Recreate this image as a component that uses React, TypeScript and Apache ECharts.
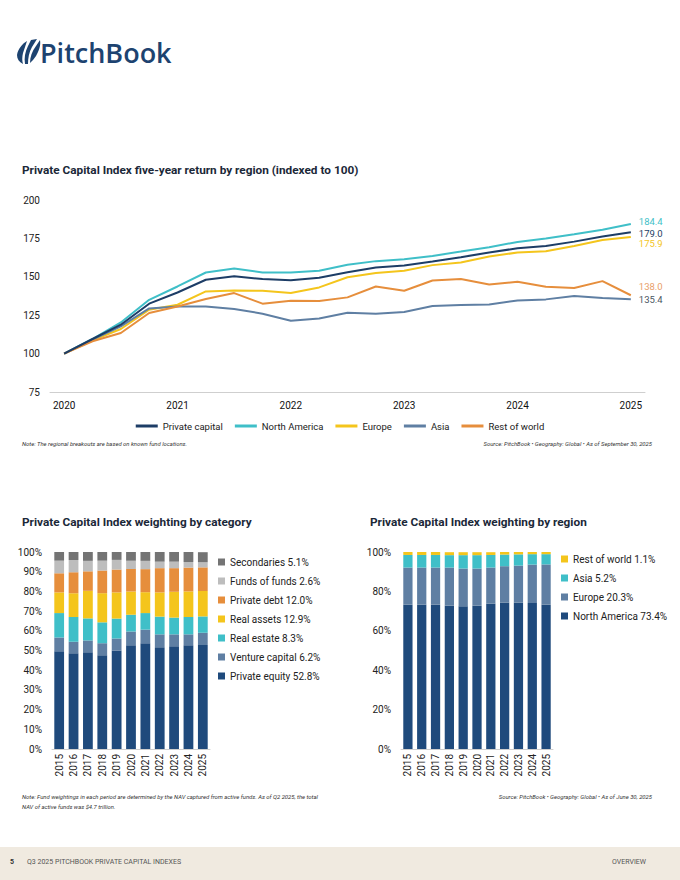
import React, { useEffect, useRef } from "react";
import * as echarts from "echarts";

// ---------- Line chart data (quarterly, indexed to 100) ----------
const quarters = [
  "Q2 2020", "Q3 2020", "Q4 2020", "Q1 2021", "Q2 2021", "Q3 2021", "Q4 2021",
  "Q1 2022", "Q2 2022", "Q3 2022", "Q4 2022", "Q1 2023", "Q2 2023", "Q3 2023",
  "Q4 2023", "Q1 2024", "Q2 2024", "Q3 2024", "Q4 2024", "Q1 2025", "Q2 2025",
];
const privateCapital = [100, 109.5, 118.8, 132.5, 139.8, 148.1, 150.4, 148.5, 147.8, 149.4, 153.0, 156.1, 157.4, 159.9, 162.8, 165.8, 168.6, 170.1, 172.9, 176.2, 179.0];
const northAmerica = [100, 109.5, 120.3, 135.0, 143.7, 152.8, 155.4, 152.8, 152.8, 153.9, 157.8, 160.2, 161.5, 163.6, 166.4, 169.3, 172.7, 174.9, 177.7, 180.7, 184.4];
const europe = [100, 108.7, 116.0, 128.6, 131.8, 140.5, 141.1, 140.9, 139.4, 143.1, 149.7, 152.4, 153.9, 157.6, 159.3, 163.2, 165.8, 166.7, 170.1, 174.0, 175.9];
const asia = [100, 109.1, 117.7, 129.4, 130.7, 130.7, 129.0, 126.0, 121.4, 122.9, 126.6, 126.0, 127.1, 131.0, 131.6, 132.0, 134.6, 135.3, 137.5, 136.2, 135.4];
const restOfWorld = [100, 108.0, 113.4, 126.4, 130.7, 135.5, 139.4, 132.5, 134.4, 134.2, 136.6, 143.7, 140.9, 147.6, 148.5, 145.0, 146.8, 143.5, 142.7, 147.2, 138.0];

// ---------- Weighting by category (%) ----------
const years = ["2015", "2016", "2017", "2018", "2019", "2020", "2021", "2022", "2023", "2024", "2025"];
const privateEquity = [49.6, 48.6, 49.1, 47.6, 50.0, 52.7, 53.7, 51.7, 52.2, 52.7, 52.8];
const ventureCapital = [7.0, 5.9, 6.0, 6.1, 6.1, 6.9, 6.9, 6.5, 6.0, 5.5, 6.2];
const realEstate = [12.4, 12.5, 11.2, 10.6, 10.1, 8.6, 8.4, 9.0, 8.5, 8.8, 8.3];
const realAssets = [10.5, 12.1, 14.0, 14.8, 13.3, 11.8, 10.6, 12.3, 13.1, 13.0, 12.9];
const privateDebt = [9.7, 10.6, 9.9, 11.5, 11.6, 11.4, 11.7, 12.3, 12.0, 12.1, 12.0];
const fundsOfFunds = [6.4, 6.3, 5.3, 5.0, 4.9, 4.2, 4.2, 3.3, 3.3, 2.8, 2.6];
const secondaries = [4.4, 4.0, 4.5, 4.4, 4.0, 4.4, 4.5, 4.9, 4.9, 5.1, 5.1];

// ---------- Weighting by region (%) ----------
const naWeight = [73.4, 73.4, 73.4, 72.9, 72.4, 72.9, 73.9, 74.4, 74.4, 74.1, 73.4];
const europeWeight = [18.7, 18.7, 18.7, 19.2, 19.2, 18.7, 18.2, 18.4, 18.7, 19.5, 20.3];
const asiaWeight = [6.4, 6.4, 6.4, 6.3, 6.8, 6.8, 6.4, 5.9, 5.7, 5.3, 5.2];
const rowWeight = [1.5, 1.5, 1.5, 1.5, 1.5, 1.5, 1.4, 1.3, 1.2, 1.1, 1.1];

const NAVY = "#1F4A7C";
const DARKNAVY = "#1D3D66";
const TEAL = "#3FBFC8";
const YELLOW = "#F4C51C";
const SLATE = "#5F7FA3";
const ORANGE = "#E68E3C";
const LGRAY = "#BDBDBD";
const DGRAY = "#747474";
const TXT = "#222222";
const FONT = "Roboto";

const logoPath =
  "M0 16 C1 10 5 5 10 2 L6 14 C5 18 5 22 6 25 C2 23 0 20 0 16 Z " +
  "M8 25 C7 19 8 13 11 7 L14 1 C16 0.5 18 0.2 20 0 L15 8 C12 13 11 19 11 25 Z " +
  "M13 24 C13 18 15 12 19 7 L23 1 C24 6 22 12 19 17 C17 20 15 22 13 24 Z";

let registered = false;
function ensureShape() {
  if (registered) return;
  echarts.graphic.registerShape("logo", (echarts.graphic as any).extendPath(logoPath, {}));
  registered = true;
}

function lastOf(arr: number[]) {
  return arr[arr.length - 1].toFixed(1);
}

export default function App() {
  const mainRef = useRef<HTMLDivElement>(null);
  const rightRef = useRef<HTMLDivElement>(null);

  useEffect(() => {
    ensureShape();
    const main = echarts.init(mainRef.current!, undefined, { renderer: "svg" });
    const right = echarts.init(rightRef.current!, undefined, { renderer: "svg" });

    const lineSeries = (name: string, data: number[], color: string, dy: number, labelColor?: string) => ({
      name,
      type: "line",
      xAxisIndex: 0,
      yAxisIndex: 0,
      data,
      symbol: "none",
      lineStyle: { width: 2, color },
      itemStyle: { color },
      endLabel: {
        show: true,
        formatter: (p: any) => Number(p.value).toFixed(1),
        color: labelColor || color,
        fontSize: 9.5,
        fontFamily: FONT,
        distance: 8,
        offset: [0, dy],
      },
    });

    const catMap: Record<string, number[]> = {
      "Private equity": privateEquity,
      "Venture capital": ventureCapital,
      "Real estate": realEstate,
      "Real assets": realAssets,
      "Private debt": privateDebt,
      "Funds of funds": fundsOfFunds,
      Secondaries: secondaries,
    };
    const catColors: Record<string, string> = {
      "Private equity": NAVY,
      "Venture capital": SLATE,
      "Real estate": TEAL,
      "Real assets": YELLOW,
      "Private debt": ORANGE,
      "Funds of funds": LGRAY,
      Secondaries: DGRAY,
    };
    const catOrder = ["Private equity", "Venture capital", "Real estate", "Real assets", "Private debt", "Funds of funds", "Secondaries"];

    const smallText = (x: number, y: number, text: string, align: string = "left") => ({
      type: "text",
      x,
      y,
      style: {
        text,
        fontFamily: FONT,
        fontSize: 5.9,
        fontStyle: "italic",
        fill: "#333",
        align,
        verticalAlign: "middle",
      },
    });

    main.setOption({
      animation: false,
      textStyle: { fontFamily: FONT },
      graphic: [
        { type: "logo", x: 17, y: 39, scaleX: 1, scaleY: 1, style: { fill: "#1D4370" } },
        {
          type: "text",
          x: 40,
          y: 52,
          style: { text: "PitchBook", fontFamily: "Open Sans", fontWeight: 600, fontSize: 27, fill: "#1D4370", verticalAlign: "middle" },
        },
        {
          type: "text",
          x: 22,
          y: 170,
          style: { text: "Private Capital Index five-year return by region (indexed to 100)", fontFamily: FONT, fontWeight: "bold", fontSize: 11.8, fill: "#1B2838", verticalAlign: "middle" },
        },
        smallText(22, 444, "Note: The regional breakouts are based on known fund locations."),
        smallText(652, 444, "Source: PitchBook • Geography: Global • As of September 30, 2025", "right"),
        {
          type: "text",
          x: 22,
          y: 522,
          style: { text: "Private Capital Index weighting by category", fontFamily: FONT, fontWeight: "bold", fontSize: 11.8, fill: "#1B2838", verticalAlign: "middle" },
        },
        {
          type: "text",
          x: 370,
          y: 522,
          style: { text: "Private Capital Index weighting by region", fontFamily: FONT, fontWeight: "bold", fontSize: 11.8, fill: "#1B2838", verticalAlign: "middle" },
        },
        smallText(22, 797, "Note: Fund weightings in each period are determined by the NAV captured from active funds. As of Q2 2025, the total"),
        smallText(22, 807, "NAV of active funds was $4.7 trillion."),
        smallText(652, 797, "Source: PitchBook • Geography: Global • As of June 30, 2025", "right"),
        { type: "rect", shape: { x: 0, y: 847, width: 680, height: 33 }, style: { fill: "#F0EAE0" } },
        {
          type: "text",
          x: 10,
          y: 862,
          style: { text: "5", fontFamily: FONT, fontWeight: "bold", fontSize: 7, fill: "#333", verticalAlign: "middle" },
        },
        {
          type: "text",
          x: 27,
          y: 862,
          style: { text: "Q3 2025 PITCHBOOK PRIVATE CAPITAL INDEXES", fontFamily: FONT, fontSize: 7, fill: "#555", verticalAlign: "middle" },
        },
        {
          type: "text",
          x: 646,
          y: 862,
          style: { text: "OVERVIEW", fontFamily: FONT, fontSize: 7, fill: "#555", align: "right", verticalAlign: "middle" },
        },
      ],
      legend: [
        {
          data: ["Private capital", "North America", "Europe", "Asia", "Rest of world"],
          top: 421,
          left: "center",
          padding: 0,
          icon: "rect",
          itemWidth: 22,
          itemHeight: 3,
          itemGap: 12,
          textStyle: { fontSize: 9.5, color: TXT, fontFamily: FONT },
        },
        {
          data: ["Secondaries", "Funds of funds", "Private debt", "Real assets", "Real estate", "Venture capital", "Private equity"],
          orient: "vertical",
          left: 218,
          top: 557,
          padding: 0,
          icon: "rect",
          itemWidth: 7,
          itemHeight: 7,
          itemGap: 9,
          formatter: (name: string) => `${name} ${lastOf(catMap[name])}%`,
          textStyle: { fontSize: 10, color: TXT, fontFamily: FONT },
        },
      ],
      grid: [
        { left: 50, top: 200, width: 595, height: 192 },
        { left: 52, top: 552, width: 158, height: 197 },
      ],
      xAxis: [
        {
          type: "category",
          gridIndex: 0,
          data: quarters,
          boundaryGap: true,
          axisLine: { lineStyle: { color: "#cfcfcf" } },
          axisTick: { show: false },
          axisLabel: {
            interval: 3,
            formatter: (v: string) => v.split(" ")[1],
            fontSize: 10,
            color: "#111",
            margin: 8,
            fontWeight: "normal",
          },
        },
        {
          type: "category",
          gridIndex: 1,
          data: years,
          axisLine: { lineStyle: { color: "#cfcfcf" } },
          axisTick: { show: false },
          axisLabel: { interval: 0, rotate: 90, fontSize: 10, color: TXT, margin: 5 },
        },
      ],
      yAxis: [
        {
          type: "value",
          gridIndex: 0,
          min: 75,
          max: 200,
          interval: 25,
          splitLine: { show: false },
          axisLine: { show: false },
          axisTick: { show: false },
          axisLabel: { fontSize: 10, color: TXT, margin: 10 },
        },
        {
          type: "value",
          gridIndex: 1,
          min: 0,
          max: 100,
          interval: 10,
          splitLine: { show: false },
          axisLine: { show: false },
          axisTick: { show: false },
          axisLabel: { fontSize: 10, color: TXT, margin: 10, formatter: "{value}%" },
        },
      ],
      series: [
        lineSeries("North America", northAmerica, TEAL, -2.5),
        lineSeries("Europe", europe, YELLOW, 6.5),
        lineSeries("Asia", asia, SLATE, 0.5, "#4A5562"),
        lineSeries("Rest of world", restOfWorld, ORANGE, -9, "#E9A06A"),
        lineSeries("Private capital", privateCapital, DARKNAVY, 1.5),
        ...catOrder.map((name) => ({
          name,
          type: "bar",
          stack: "cat",
          xAxisIndex: 1,
          yAxisIndex: 1,
          data: catMap[name],
          barWidth: "68%",
          itemStyle: { color: catColors[name] },
        })),
      ],
    });

    const regMap: Record<string, number[]> = {
      "North America": naWeight,
      Europe: europeWeight,
      Asia: asiaWeight,
      "Rest of world": rowWeight,
    };
    const regColors: Record<string, string> = {
      "North America": NAVY,
      Europe: SLATE,
      Asia: TEAL,
      "Rest of world": YELLOW,
    };
    const regOrder = ["North America", "Europe", "Asia", "Rest of world"];

    right.setOption({
      animation: false,
      textStyle: { fontFamily: FONT },
      legend: {
        data: ["Rest of world", "Asia", "Europe", "North America"],
        orient: "vertical",
        left: 211,
        top: 24,
        padding: 0,
        icon: "rect",
        itemWidth: 7,
        itemHeight: 7,
        itemGap: 9,
        formatter: (name: string) => `${name} ${lastOf(regMap[name])}%`,
        textStyle: { fontSize: 10, color: TXT, fontFamily: FONT },
      },
      grid: { left: 51, top: 22, width: 152, height: 197 },
      xAxis: {
        type: "category",
        data: years,
        axisLine: { lineStyle: { color: "#cfcfcf" } },
        axisTick: { show: false },
        axisLabel: { interval: 0, rotate: 90, fontSize: 10, color: TXT, margin: 5 },
      },
      yAxis: {
        type: "value",
        min: 0,
        max: 100,
        interval: 20,
        splitLine: { show: false },
        axisLine: { show: false },
        axisTick: { show: false },
        axisLabel: { fontSize: 10, color: TXT, margin: 10, formatter: "{value}%" },
      },
      series: regOrder.map((name) => ({
        name,
        type: "bar",
        stack: "reg",
        data: regMap[name],
        barWidth: "67%",
        itemStyle: { color: regColors[name] },
      })),
    });

    return () => {
      main.dispose();
      right.dispose();
    };
  }, []);

  return (
    <div style={{ position: "fixed", left: 0, top: 0, width: 680, height: 880, background: "#fff" }}>
      <div ref={mainRef} style={{ position: "absolute", left: 0, top: 0, width: 680, height: 880 }} />
      <div ref={rightRef} style={{ position: "absolute", left: 350, top: 530, width: 330, height: 270 }} />
    </div>
  );
}
